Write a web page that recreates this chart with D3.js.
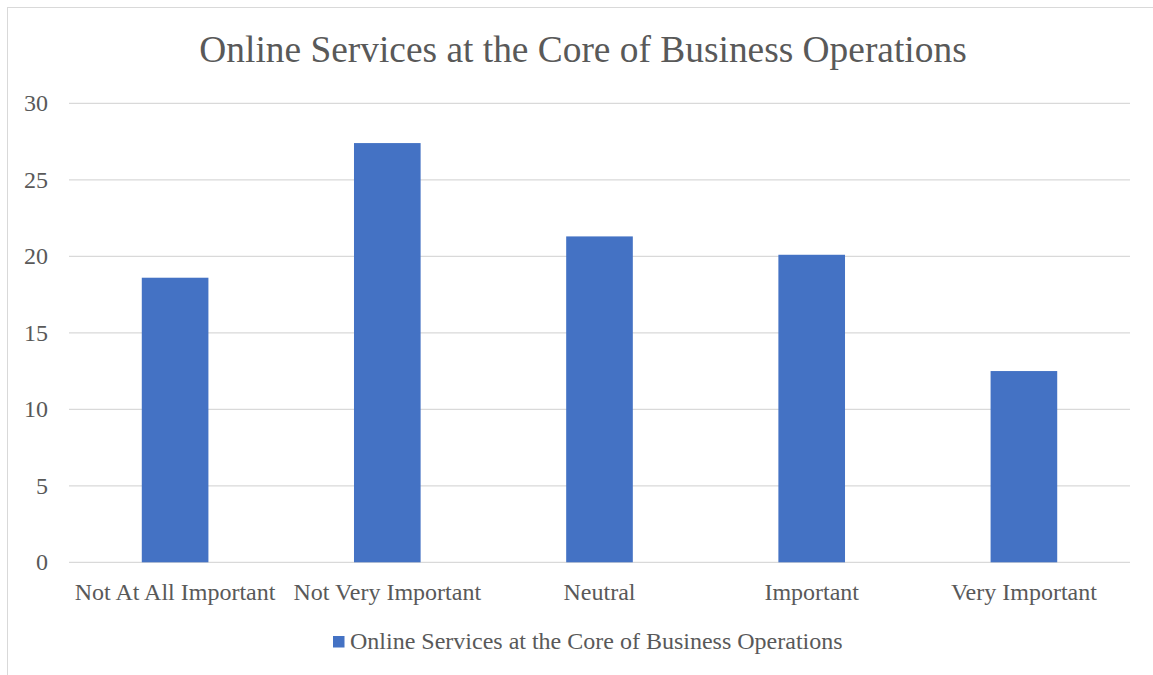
<!DOCTYPE html>
<html>
<head>
<meta charset="utf-8">
<script src="https://cdn.jsdelivr.net/npm/d3@7"></script>
<style>
  html, body { margin: 0; padding: 0; background: #fff; }
  svg { display: block; }
  text { font-family: "Liberation Serif", "Times New Roman", serif; fill: #595959; }
</style>
</head>
<body>
<svg id="chart" width="1153" height="675"></svg>
<script>
const chartTitle = "Online Services at the Core of Business Operations";
const seriesName = "Online Services at the Core of Business Operations";
const categories = ["Not At All Important", "Not Very Important", "Neutral", "Important", "Very Important"];
const values = [18.6, 27.4, 21.3, 20.1, 12.5];
const yTicks = [0, 5, 10, 15, 20, 25, 30];

const W = 1153, H = 675;
const margin = { top: 103.3, right: 23, bottom: 112.7, left: 69 };
const FONT = "Liberation Serif, Times New Roman, serif";
const svg = d3.select("#chart");

// outer chart frame
svg.append("rect")
  .attr("x", 7.5).attr("y", 7.5)
  .attr("width", W + 10).attr("height", H + 10)
  .attr("fill", "#fff").attr("stroke", "#d9d9d9").attr("stroke-width", 1);

const x = d3.scaleBand()
  .domain(categories)
  .range([margin.left, W - margin.right])
  .paddingInner(0.686)
  .paddingOuter(0.343);

const y = d3.scaleLinear()
  .domain([0, 30])
  .range([H - margin.bottom, margin.top]);

// gridlines
svg.append("g")
  .selectAll("line")
  .data(yTicks)
  .join("line")
  .attr("x1", margin.left).attr("x2", W - margin.right)
  .attr("y1", d => y(d)).attr("y2", d => y(d))
  .attr("stroke", "#d9d9d9").attr("stroke-width", 1.3);

// y tick labels
const yAxis = d3.axisLeft(y).tickValues(yTicks).tickSize(0).tickPadding(21);
const gy = svg.append("g").attr("transform", `translate(${margin.left},0)`).call(yAxis);
gy.attr("font-family", FONT);
gy.select(".domain").remove();
gy.selectAll("text")
  .attr("font-size", 24).attr("fill", "#595959");

// bars
svg.append("g")
  .selectAll("rect")
  .data(categories.map((c, i) => ({ c, v: values[i] })))
  .join("rect")
  .attr("x", d => x(d.c))
  .attr("width", x.bandwidth())
  .attr("y", d => y(d.v))
  .attr("height", d => y(0) - y(d.v))
  .attr("fill", "#4472c4");

// category axis
const xAxis = d3.axisBottom(x).tickSize(0).tickPadding(0);
const gx = svg.append("g").attr("transform", `translate(0,${y(0)})`).call(xAxis);
gx.attr("font-family", FONT);
gx.select(".domain").remove();
gx.selectAll("text")
  .attr("dy", null)
  .attr("y", 600 - y(0))
  .attr("font-size", 24).attr("fill", "#595959");

// title
svg.append("text")
  .attr("x", 583).attr("y", 62)
  .attr("text-anchor", "middle")
  .attr("font-size", 37.4)
  .text(chartTitle);

// legend
const lg = svg.append("g");
lg.append("rect")
  .attr("x", 333).attr("y", 636)
  .attr("width", 11.5).attr("height", 11.5)
  .attr("fill", "#4472c4");
lg.append("text")
  .attr("x", 350).attr("y", 649)
  .attr("font-size", 24)
  .text(seriesName);
</script>
</body>
</html>
